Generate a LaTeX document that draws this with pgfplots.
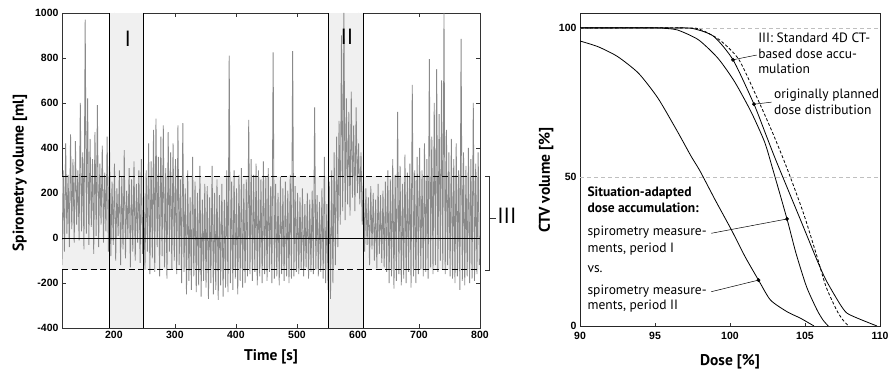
\documentclass[border=0pt]{standalone}
\usepackage{pgfplots}
\pgfplotsset{compat=1.18}
\usepackage{fontspec}
\setmainfont{PT Sans}
\newfontfamily\arialfont{Liberation Sans}
\begin{document}
\begin{tikzpicture}
\useasboundingbox (0,0) rectangle (888bp,369bp);
\begin{axis}[
  at={(62bp,41bp)}, anchor=south west,
  scale only axis, width=418bp, height=315bp,
  xmin=115, xmax=800, ymin=-400, ymax=1000,
  xtick={200,300,...,800}, ytick={-400,-200,...,1000},
  tick align=inside, tick pos=both, major tick length=4bp,
  axis line style={black!80, line width=0.8bp},
  tick style={black!80, line width=0.6bp},
  ticklabel style={font=\arialfont\bfseries\fontsize{10.5bp}{12bp}\selectfont},
  /pgf/number format/assume math mode=true,
  /pgf/number format/1000 sep={},
  xlabel={Time [s]}, ylabel={Spirometry volume [ml]},
  label style={font=\bfseries\fontsize{15.5bp}{17bp}\selectfont},
  xlabel style={at={(axis description cs:0.5,-0.092)}, anchor=center},
  ylabel style={at={(axis description cs:-0.1005,0.492)}, anchor=center},
  clip mode=individual,
]
\fill[gray!12] (axis cs:115,-142) rectangle (axis cs:800,275);
\fill[gray!12] (axis cs:193,-400) rectangle (axis cs:249,1000);
\fill[gray!12] (axis cs:552,-400) rectangle (axis cs:609,1000);
\addplot[black!46, line width=0.85bp] table {
115 -120
117 300
119 -60
121 420
123 20
125 280
127 -40
129 460
131 40
133 350
135 -20
137 430
139 60
141 300
143 -10
145 600
147 30
149 380
151 -50
153 970
155 20
157 620
159 -30
161 440
163 50
165 350
167 -70
169 470
171 10
173 590
175 -40
177 330
179 60
181 410
183 -20
185 290
187 30
189 450
191 -60
193 380
195 -80
197 250
199 -30
201 330
203 -100
205 220
207 10
209 300
211 -120
213 270
215 -50
217 390
219 -90
221 210
223 0
225 310
227 -130
229 260
231 -60
233 340
235 -100
237 240
239 -20
241 300
243 -110
245 350
247 -70
249 200
251 -140
253 300
255 -60
257 420
259 -160
261 340
263 -90
265 480
267 -150
269 530
271 -40
273 360
275 -170
277 450
279 -80
281 500
283 -130
285 310
287 -180
289 470
291 -60
293 380
295 -140
297 420
299 -100
301 350
303 -160
305 500
307 -120
309 260
311 -200
313 510
315 -150
317 220
319 -250
321 300
323 -190
325 180
327 -230
329 360
331 -170
333 250
335 -240
337 200
339 -210
341 320
343 -260
345 170
347 -190
349 240
351 -220
353 230
355 -270
357 180
359 -200
361 320
363 -250
365 200
367 -230
369 260
371 -275
373 190
375 -210
377 240
379 -260
381 170
383 -220
385 300
387 -240
389 810
391 -200
393 250
395 -230
397 300
399 -180
401 220
403 -250
405 280
407 -190
409 310
411 -220
413 240
415 -200
417 260
419 -170
421 525
423 -160
425 350
427 -190
429 280
431 -150
433 330
435 -210
437 300
439 -170
441 260
443 -200
445 340
447 -160
449 270
451 -190
453 310
455 -150
457 230
459 -200
461 825
463 -180
465 240
467 -170
469 200
471 -210
473 270
475 -160
477 220
479 -190
481 250
483 -170
485 210
487 -200
489 280
491 -180
493 830
495 -170
497 230
499 -150
501 200
503 -160
505 180
507 -140
509 220
511 -170
513 150
515 -130
517 200
519 -180
521 170
523 -150
525 210
527 -160
529 580
531 -140
533 190
535 -170
537 160
539 -150
541 220
543 -180
545 360
547 -200
549 150
551 -230
553 250
555 -270
557 300
559 -200
561 380
563 -120
565 450
567 -40
569 520
571 60
573 900
575 120
577 1000
579 80
581 620
583 150
585 560
587 100
589 650
591 180
593 500
595 120
597 580
599 200
601 420
603 150
605 380
607 60
609 250
611 -60
613 220
615 -30
617 180
619 -120
621 230
623 -50
625 200
627 -100
629 170
631 -135
633 240
635 -70
637 190
639 -110
641 210
643 -130
645 250
647 -150
649 300
651 -200
653 260
655 -170
657 350
659 -225
661 280
663 -190
665 560
667 -160
669 320
671 -210
673 240
675 -180
677 370
679 -200
681 290
683 -150
685 330
687 -220
689 680
691 -170
693 300
695 -200
697 360
699 -160
701 400
703 -140
705 300
707 -170
709 420
711 -150
713 350
715 -180
717 795
719 -130
721 450
723 -160
725 600
727 -120
729 750
731 -150
733 550
735 -100
737 700
739 -140
741 1000
743 -160
745 480
747 -120
749 380
751 -170
753 440
755 -180
757 350
759 -200
761 420
763 -170
765 300
767 -230
769 885
771 -190
773 380
775 -210
777 320
779 -170
781 400
783 -200
785 350
787 -180
789 600
791 -190
793 330
795 -160
797 380
799 -120
};
\draw[black, line width=0.9bp] (axis cs:115,0) -- (axis cs:800,0);
\draw[black, line width=0.9bp] (axis cs:193,-400) -- (axis cs:193,1000);
\draw[black, line width=0.9bp] (axis cs:249,-400) -- (axis cs:249,1000);
\draw[black, line width=0.9bp] (axis cs:552,-400) -- (axis cs:552,1000);
\draw[black, line width=0.9bp] (axis cs:609,-400) -- (axis cs:609,1000);
\draw[black, line width=0.9bp, dash pattern=on 6bp off 3.5bp] (axis cs:115,275) -- (axis cs:800,275);
\draw[black, line width=0.9bp, dash pattern=on 6bp off 3.5bp] (axis cs:115,-142) -- (axis cs:800,-142);
\node[font=\fontsize{22bp}{22bp}\selectfont] at (axis cs:223,886) {I};
\node[font=\fontsize{22bp}{22bp}\selectfont] at (axis cs:582,893) {II};
\draw[black!80, line width=0.8bp] (axis cs:808,275) -- (axis cs:816,275) -- (axis cs:816,-142) -- (axis cs:808,-142);
\draw[black!80, line width=0.8bp] (axis cs:816,86) -- (axis cs:826,86);
\node[anchor=west, inner sep=0pt, font=\fontsize{22bp}{22bp}\selectfont] at (axis cs:828,100) {III};
\end{axis}
\begin{axis}[
  at={(580bp,43bp)}, anchor=south west,
  scale only axis, width=300bp, height=313bp,
  xmin=90, xmax=110, ymin=0, ymax=105,
  xtick={90,95,...,110}, ytick={0,50,100},
  tick align=inside, xtick pos=bottom, ytick pos=left, major tick length=3bp,
  ytick style={draw=none},
  axis line style={black!85, line width=0.8bp},
  tick style={black!80, line width=0.6bp},
  ticklabel style={font=\arialfont\bfseries\fontsize{10.5bp}{12bp}\selectfont},
  xticklabel style={yshift=-2.5bp},
  /pgf/number format/assume math mode=true,
  xlabel={Dose [\%]}, ylabel={CTV volume [\%]},
  label style={font=\bfseries\fontsize{15.5bp}{17bp}\selectfont},
  xlabel style={at={(axis description cs:0.5,-0.115)}, anchor=center},
  ylabel style={at={(axis description cs:-0.113,0.466)}, anchor=center},
  clip mode=individual,
]
\draw[gray!50, line width=0.6bp, dash pattern=on 4bp off 3bp] (axis cs:90,100) -- (axis cs:110,100);
\draw[gray!50, line width=0.6bp, dash pattern=on 4bp off 3bp] (axis cs:90,50) -- (axis cs:110,50);
% period II
\addplot[black, line width=0.8bp, smooth, tension=0.4] coordinates {
(90,95.6) (91.2,93.7) (92.5,90.4) (93.9,84.8) (95.2,76.4) (96.5,65.2) (97.4,57) (98.0,52)
(99.0,42.4) (100.1,32.2) (101.0,23.3) (101.9,15.4) (102.7,8.7) (103.8,4.8) (104.7,2.6) (105.6,0)};
% period I
\addplot[black, line width=0.8bp, smooth, tension=0.4] coordinates {
(90,100) (95,100) (95.5,99.9) (96.5,99.3) (97.9,96) (99.2,89.8) (100.3,82) (101.4,71.9)
(102.3,61.8) (102.8,53.5) (103.8,35.9) (104.4,24.4) (105.1,13.2) (105.8,5.4) (106.2,2) (106.55,0)};
% outer solid
\addplot[black, line width=0.8bp, smooth, tension=0.4] coordinates {
(90,100) (96,100) (97.5,99.8) (98.9,97.2) (100.2,89.3) (101.6,74.4) (102.4,64.1) (103.1,55.1)
(104.7,35.6) (105.8,22.1) (106.4,15.4) (107.3,7.6) (107.8,4.3) (108.7,2.2) (109.8,0)};
% dashed
\addplot[black, line width=0.8bp, dash pattern=on 3bp off 2bp, smooth, tension=0.4] coordinates {
(90,100) (97,100) (98,99.5) (99.3,96) (100.6,89.3) (102,74.4) (102.9,64.1) (103.8,52.9)
(104.9,37.8) (105.8,23.3) (106.4,13.2) (107.1,5.4) (107.5,2.2) (107.9,0)};
\addplot[only marks, mark=*, mark size=1.7bp, black] coordinates {
(100.2,89.3) (101.6,74.4) (103.8,35.9) (101.9,15.4)};
\draw[black, line width=0.5bp] (axis cs:100.2,89.3) -- (axis cs:101.78,90.9);
\draw[black, line width=0.5bp] (axis cs:101.6,74.4) -- (axis cs:102.78,75.1);
\draw[black, line width=0.5bp] (axis cs:98.75,31.1) -- (axis cs:103.8,35.9);
\draw[black, line width=0.5bp] (axis cs:98.75,11.5) -- (axis cs:101.9,15.4);
\tikzset{ann/.style={anchor=west, inner sep=0pt, text height=9.5bp, text depth=3bp, font=\fontsize{13.5bp}{15bp}\selectfont}}
\node[ann] at (axis cs:101.87,96.3) {III: Standard 4D CT-};
\node[ann] at (axis cs:101.87,90.9) {based dose accu-};
\node[ann] at (axis cs:101.87,85.9) {mulation};
\node[ann] at (axis cs:102.93,77.5) {originally planned};
\node[ann] at (axis cs:102.93,72.1) {dose distribution};
\node[ann, font=\bfseries\fontsize{13.5bp}{15bp}\selectfont] at (axis cs:90.49,44.5) {Situation-adapted};
\node[ann, font=\bfseries\fontsize{13.5bp}{15bp}\selectfont] at (axis cs:90.49,39.2) {dose accumulation:};
\node[ann] at (axis cs:90.49,31.4) {spirometry measure-};
\node[ann] at (axis cs:90.49,25.8) {ments, period I};
\node[ann] at (axis cs:90.49,19.0) {vs.};
\node[ann] at (axis cs:90.49,11.8) {spirometry measure-};
\node[ann] at (axis cs:90.49,6.5) {ments, period II};
\end{axis}
\end{tikzpicture}
\end{document}
